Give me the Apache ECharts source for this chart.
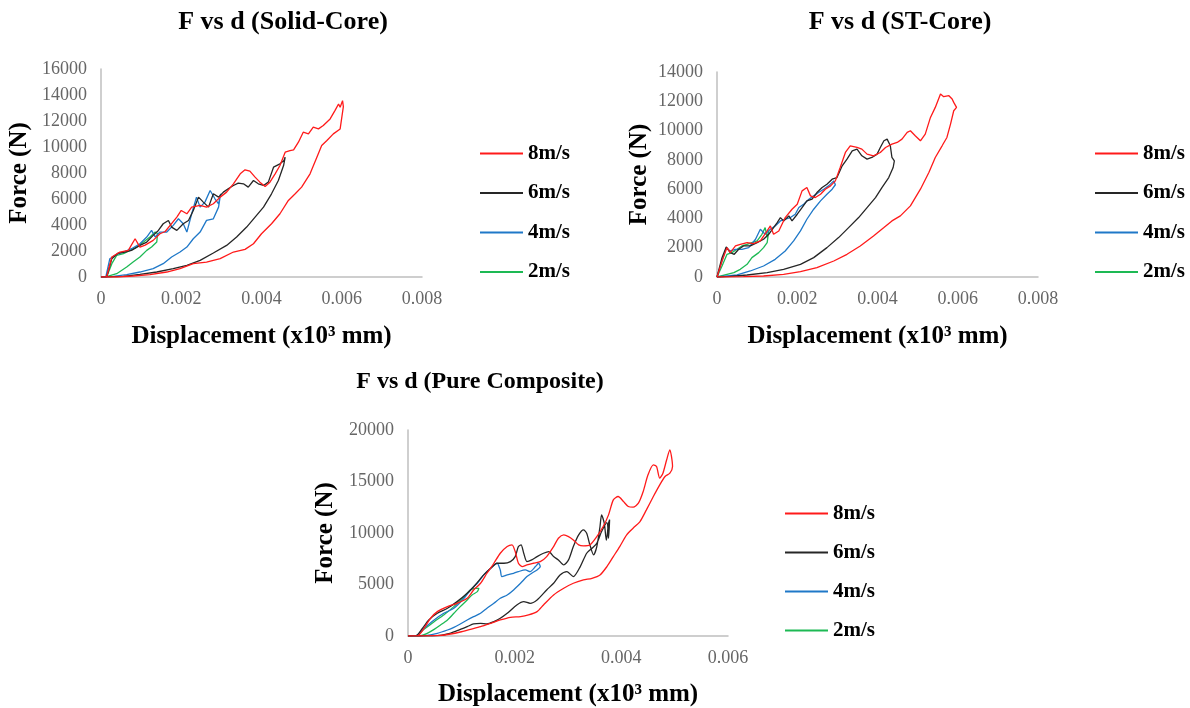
<!DOCTYPE html>
<html>
<head>
<meta charset="utf-8">
<script src="https://cdn.jsdelivr.net/npm/echarts@6/dist/echarts.min.js"></script>
<style>
html,body{margin:0;padding:0;background:#fff;}
#main{width:1190px;height:708px;}
</style>
</head>
<body>
<div id="main"></div>
<script>
// ---------- labels ----------
var speeds = ['8m/s', '6m/s', '4m/s', '2m/s'];
var titles = ['F vs d (Solid-Core)', 'F vs d (ST-Core)', 'F vs d (Pure Composite)'];
var xTitle = 'Displacement (x10\u00B3 mm)';
var yTitle = 'Force (N)';
var xMaxes = [0.008, 0.008, 0.006];
var yMaxes = [16000, 14000, 20000];
var yIntervals = [2000, 2000, 5000];

// ---------- Solid-Core [displacement, force] (loading path then return path) ----------
var solid8 = [[0,0],[0.00014,0],[0.00027,1536],[0.00047,1920],[0.00068,2048],[0.00085,2944],[0.00097,2300],[0.0011,2450],[0.0013,2816],[0.00147,3328],[0.0016,3500],[0.00189,4608],[0.002,5120],[0.00214,4864],[0.00226,5376],[0.00247,5504],[0.00263,5376],[0.0028,5632],[0.00297,6144],[0.00313,6528],[0.0033,7168],[0.00347,7936],[0.00359,8243],[0.00371,8141],[0.00384,7680],[0.00396,7296],[0.00409,6963],[0.00421,7296],[0.00434,7936],[0.00446,8576],[0.00459,9600],[0.00471,9728],[0.0048,9779],[0.00492,10368],[0.00504,11136],[0.00517,11008],[0.00529,11520],[0.00542,11392],[0.00554,11648],[0.00571,12160],[0.00583,12800],[0.00592,13312],[0.00596,13056],[0.00602,13568],[0.00606,13619],[0.00604,13100],[0.00596,11392],[0.00579,11008],[0.00563,10496],[0.0055,10112],[0.00538,9216],[0.00521,7936],[0.005,6912],[0.00484,6400],[0.00467,5888],[0.00446,4864],[0.00425,4096],[0.004,3328],[0.0038,2560],[0.00359,2125],[0.0033,1920],[0.00297,1408],[0.00263,1152],[0.0023,1024],[0.00197,640],[0.00164,384],[0.00122,180],[0.0008,77],[0.0004,0],[0,0]];
var solid6 = [[0,0],[0.00014,0],[0.00027,1408],[0.00043,1843],[0.0006,1920],[0.00076,2048],[0.00097,2432],[0.00114,2688],[0.0013,3200],[0.00143,3584],[0.00155,4096],[0.00168,4352],[0.00176,3840],[0.00189,3584],[0.00205,4096],[0.00218,4352],[0.0023,5120],[0.00243,6144],[0.00255,5760],[0.00268,5376],[0.0028,6400],[0.00293,6144],[0.00305,6528],[0.00317,6784],[0.0033,7040],[0.00342,7219],[0.00355,7168],[0.00367,6912],[0.0038,7424],[0.00392,7168],[0.00405,7040],[0.00417,7296],[0.0043,8448],[0.00446,8704],[0.00456,8960],[0.00459,9216],[0.00455,8576],[0.00442,7424],[0.00425,6400],[0.00405,5376],[0.00384,4608],[0.00363,3840],[0.00338,3072],[0.00313,2432],[0.0028,1843],[0.00247,1280],[0.00214,896],[0.0018,640],[0.00139,384],[0.00097,205],[0.00056,51],[0,0]];
var solid4 = [[0,0],[0.00012,0],[0.00022,1408],[0.00039,1741],[0.00056,1920],[0.00076,2176],[0.00097,2560],[0.00114,3072],[0.00126,3584],[0.00135,3072],[0.00147,3456],[0.00164,3456],[0.0018,3968],[0.00193,4480],[0.00205,4096],[0.00214,3456],[0.00226,4864],[0.00238,6144],[0.00247,5376],[0.00259,5760],[0.00272,6656],[0.00284,6016],[0.00293,5632],[0.00298,6400],[0.00293,5376],[0.0028,4480],[0.00263,4352],[0.00247,3456],[0.0023,2944],[0.00214,2304],[0.00197,1920],[0.00176,1536],[0.00155,1024],[0.0013,640],[0.00097,384],[0.00064,180],[0.00031,51],[0,0]];
var solid2 = [[0,0],[0.00014,0],[0.00027,1024],[0.00039,1664],[0.00056,1792],[0.00072,2048],[0.00089,2304],[0.00106,2688],[0.00122,3072],[0.00135,3456],[0.00141,3350],[0.00139,2688],[0.00126,2304],[0.00114,2048],[0.00097,1536],[0.0008,1152],[0.00064,768],[0.00039,256],[0.00014,26],[0,0]];

// ---------- ST-Core ----------
var st8 = [[0,0],[0.000125,1094],[0.00025,2006],[0.00033,1664],[0.00046,2120],[0.00058,2234],[0.00075,2348],[0.00091,2280],[0.00108,2462],[0.00125,3146],[0.00133,3488],[0.00141,2918],[0.00154,3146],[0.0017,4058],[0.00187,4628],[0.002,4970],[0.00212,5882],[0.00224,6110],[0.00233,5540],[0.00245,5426],[0.00258,5654],[0.0027,5996],[0.00283,6224],[0.00295,6566],[0.00307,7478],[0.0032,8504],[0.00332,8960],[0.00349,8846],[0.00361,8732],[0.00374,8390],[0.0039,8276],[0.00407,8504],[0.0042,8846],[0.00436,9074],[0.00449,9188],[0.00461,9416],[0.00474,9872],[0.00482,9986],[0.00494,9644],[0.00507,9302],[0.00519,9758],[0.00532,10898],[0.00544,11582],[0.00557,12494],[0.00565,12312],[0.00578,12380],[0.00586,12152],[0.0059,11924],[0.00597,11582],[0.0059,11354],[0.00582,10442],[0.00573,9530],[0.00561,8960],[0.00544,8162],[0.00528,7136],[0.00507,5996],[0.00482,4856],[0.00457,4172],[0.00436,3830],[0.00416,3374],[0.0039,2804],[0.00357,2120],[0.00324,1550],[0.00291,1094],[0.00249,638],[0.00208,365],[0.00166,182],[0.00116,68],[0.00066,23],[0,0]];
var st6 = [[0,0],[0.000125,1322],[0.00023,2052],[0.00033,1664],[0.00043,1550],[0.00054,1892],[0.00066,2120],[0.00083,2120],[0.001,2348],[0.00116,2576],[0.00129,2918],[0.00141,3374],[0.0015,3716],[0.00158,4058],[0.00166,3830],[0.00179,4172],[0.00187,3830],[0.002,4286],[0.00212,4742],[0.00224,5198],[0.00237,5312],[0.00249,5768],[0.00262,6110],[0.00274,6338],[0.00287,6680],[0.00299,6794],[0.00312,7592],[0.00324,8048],[0.00337,8618],[0.00349,8732],[0.00361,8276],[0.00374,8048],[0.00386,8162],[0.00399,8390],[0.00407,8846],[0.00416,9302],[0.00424,9416],[0.00432,8960],[0.00436,8162],[0.00442,7934],[0.00439,7478],[0.00428,6794],[0.00411,6110],[0.00395,5426],[0.00374,4742],[0.00353,4058],[0.00328,3374],[0.00303,2690],[0.00274,2006],[0.00241,1322],[0.00208,866],[0.00166,524],[0.00125,296],[0.00075,137],[0.00033,46],[0,0]];
var st4 = [[0,0],[0.000125,1094],[0.00023,2006],[0.00033,1778],[0.00046,1892],[0.00062,1892],[0.00079,2006],[0.00096,2576],[0.00108,3260],[0.0012,2918],[0.00133,3260],[0.00145,3488],[0.00158,3830],[0.0017,3944],[0.00183,4058],[0.00195,4286],[0.00204,4742],[0.00216,4970],[0.00229,5312],[0.00241,5540],[0.00253,5768],[0.00266,5996],[0.00278,6224],[0.00291,6566],[0.00295,6300],[0.00287,5996],[0.00274,5654],[0.00258,5198],[0.00241,4628],[0.00224,3944],[0.00208,3146],[0.00191,2462],[0.0017,1778],[0.00145,1208],[0.00116,752],[0.00083,410],[0.0005,137],[0,0]];
var st2 = [[0,0],[0.000125,752],[0.00025,1550],[0.00037,1664],[0.0005,1892],[0.00062,2120],[0.00075,2234],[0.00087,2348],[0.001,2462],[0.00112,2918],[0.0012,3374],[0.00125,2700],[0.00129,3146],[0.00125,2348],[0.00116,2006],[0.00104,1664],[0.00087,1322],[0.00075,866],[0.00058,524],[0.00042,296],[0.00025,182],[0,0]];

// ---------- Pure Composite ----------
var pure8 = [[0,0],[0.00017,0],[0.0003,745],[0.00042,1717],[0.00055,2365],[0.00074,2851],[0.00092,3175],[0.00111,3661],[0.00123,4471],[0.00136,5119],[0.00148,6091],[0.00161,7063],[0.00173,8035],[0.00186,8683],[0.00195,8845],[0.00201,8197],[0.00207,7063],[0.00214,6739],[0.00223,6901],[0.00235,7063],[0.00248,7225],[0.0026,7711],[0.00273,8683],[0.00282,9493],[0.00292,9817],[0.00301,9655],[0.0031,9331],[0.0032,8845],[0.00329,8748],[0.00341,8845],[0.00354,9655],[0.00366,10627],[0.00376,11761],[0.00385,13219],[0.00394,13543],[0.00404,13057],[0.00413,12571],[0.00422,12506],[0.00432,12895],[0.00441,14029],[0.0045,15649],[0.0046,16621],[0.00466,16459],[0.00472,15325],[0.00478,15811],[0.00485,17107],[0.00491,18079],[0.00494,17431],[0.00496,16459],[0.00491,15811],[0.00482,15487],[0.00472,14677],[0.0046,13543],[0.00447,12247],[0.00435,11113],[0.00422,10465],[0.0041,9817],[0.00397,8683],[0.00385,7711],[0.00373,6739],[0.0036,5929],[0.00345,5605],[0.00329,5443],[0.0031,5119],[0.00292,4633],[0.00273,3985],[0.00254,3013],[0.00242,2365],[0.00226,2041],[0.00211,1879],[0.00192,1814],[0.00173,1555],[0.00155,1231],[0.00136,907],[0.00117,648],[0.00098,389],[0.0008,194],[0.00061,65],[0,0]];
var pure6 = [[0,0],[0.00014,0],[0.00027,745],[0.00039,1555],[0.00055,2203],[0.00074,2689],[0.00092,3337],[0.00111,4147],[0.00126,4957],[0.00142,5929],[0.00155,6577],[0.00167,7063],[0.0018,7063],[0.00192,7225],[0.00201,7711],[0.00207,8683],[0.00212,8845],[0.00217,8035],[0.00223,7225],[0.00232,7387],[0.00242,7711],[0.00254,8035],[0.00264,8197],[0.00273,7711],[0.00282,7387],[0.00292,6901],[0.00301,7387],[0.0031,8683],[0.0032,9817],[0.00329,10303],[0.00335,9979],[0.00341,8845],[0.00348,7873],[0.00354,8683],[0.0036,10627],[0.00363,11761],[0.00368,10951],[0.00372,9300],[0.00376,10951],[0.00378,11300],[0.00376,9493],[0.00373,11000],[0.00363,10141],[0.00354,9007],[0.00345,8521],[0.00335,8035],[0.00323,6739],[0.0031,5767],[0.00298,6253],[0.00285,5929],[0.00273,5119],[0.0026,4471],[0.00242,3499],[0.00229,3175],[0.00217,3337],[0.00204,3013],[0.00186,2203],[0.00173,1717],[0.00161,1393],[0.00148,1166],[0.00136,1231],[0.00123,1166],[0.00111,907],[0.00092,518],[0.00074,194],[0.00055,32],[0,0]];
var pure4 = [[0,0],[0.00014,0],[0.0003,745],[0.00049,1555],[0.00067,2203],[0.00086,2689],[0.00105,3661],[0.00117,4471],[0.0013,5119],[0.00142,5929],[0.00155,6577],[0.00167,7063],[0.00173,6415],[0.00176,5767],[0.00186,5929],[0.00198,6091],[0.00207,6253],[0.0022,6415],[0.00229,6253],[0.00239,6739],[0.00245,7063],[0.00248,6739],[0.00242,6415],[0.00232,6091],[0.00223,5767],[0.00211,5119],[0.00198,4471],[0.00186,3985],[0.00173,3661],[0.00161,3175],[0.00148,2689],[0.00136,2203],[0.00123,1879],[0.00111,1555],[0.00098,1166],[0.00086,842],[0.00074,583],[0.00055,259],[0.00036,65],[0,0]];
var pure2 = [[0,0],[0.00014,0],[0.0003,648],[0.00049,1393],[0.00067,2041],[0.00086,2851],[0.00105,3823],[0.00117,4471],[0.00126,4633],[0.00133,4633],[0.0013,4309],[0.0012,3985],[0.00111,3499],[0.00098,2851],[0.00086,2203],[0.00074,1555],[0.00061,1069],[0.00049,648],[0.00036,259],[0.00024,32],[0,0]];

var seriesData = [
  [solid8, solid6, solid4, solid2],
  [st8, st6, st4, st2],
  [pure8, pure6, pure4, pure2]
];
var colors = ['#FF1A1A', '#262626', '#1F78C8', '#1DB954'];

// ---------- layout ----------
var grids = [
  {left: 101, top: 69, width: 321, height: 208, outerBoundsMode: 'none'},
  {left: 717, top: 72, width: 321, height: 205, outerBoundsMode: 'none'},
  {left: 408, top: 430, width: 320, height: 206, outerBoundsMode: 'none'}
];
var titlePos = [[283, 22], [900, 22], [480, 382]];
var titleSizes = [26, 26, 24];
var legendPos = [[480, 143], [1095, 143], [785, 503]];
var legendGaps = [18.5, 18.5, 18];
var yNameGap = [69, 65, 70];
var xNameGap = [47, 47, 46];

var serif = '"Liberation Serif", "Times New Roman", serif';

var xAxes = [], yAxes = [], series = [], legends = [], graphics = [];
for (var i = 0; i < 3; i++) {
  xAxes.push({
    type: 'value', gridIndex: i, min: 0, max: xMaxes[i], interval: 0.002,
    name: xTitle, nameLocation: 'middle', nameGap: xNameGap[i],
    nameTextStyle: {fontFamily: serif, fontWeight: 'bold', fontSize: 25, color: '#000'},
    axisLine: {show: true, lineStyle: {color: '#BFBFBF', width: 1.5}},
    axisTick: {show: false}, splitLine: {show: false},
    axisLabel: {
      fontFamily: serif, fontSize: 18, color: '#666', margin: 13,
      formatter: function (v) { return v === 0 ? '0' : v.toFixed(3); }
    }
  });
  yAxes.push({
    type: 'value', gridIndex: i, min: 0, max: yMaxes[i], interval: yIntervals[i],
    name: yTitle, nameLocation: 'middle', nameGap: yNameGap[i], nameRotate: 90,
    nameTextStyle: {fontFamily: serif, fontWeight: 'bold', fontSize: 25, color: '#000'},
    axisLine: {show: true, lineStyle: {color: '#BFBFBF', width: 1.5}},
    axisTick: {show: false}, splitLine: {show: false},
    axisLabel: {
      fontFamily: serif, fontSize: 18, color: '#666', margin: 14,
      formatter: function (v) { return String(v); }
    }
  });
  for (var k = 0; k < 4; k++) {
    series.push({
      type: 'line', name: speeds[k], xAxisIndex: i, yAxisIndex: i,
      data: seriesData[i][k], showSymbol: false, symbol: 'none',
      smooth: i === 2 ? 0.25 : false,
      lineStyle: {color: colors[k], width: 1.3},
      itemStyle: {color: colors[k]},
      z: 10 - k
    });
  }
  legends.push({
    data: speeds, orient: 'vertical', left: legendPos[i][0], top: legendPos[i][1],
    padding: 0, itemGap: legendGaps[i], itemWidth: 43, itemHeight: 2, icon: 'rect',
    selectedMode: false,
    textStyle: {fontFamily: serif, fontWeight: 'bold', fontSize: 21, lineHeight: 21, color: '#000'}
  });
  graphics.push({
    type: 'text', x: titlePos[i][0], y: titlePos[i][1],
    style: {text: titles[i], fill: '#000', font: 'bold ' + titleSizes[i] + 'px ' + serif,
            textAlign: 'center', textVerticalAlign: 'middle'}
  });
}

var chart = echarts.init(document.getElementById('main'), null, {renderer: 'canvas'});
chart.setOption({
  animation: false,
  backgroundColor: '#fff',
  grid: grids,
  xAxis: xAxes,
  yAxis: yAxes,
  legend: legends,
  series: series,
  graphic: graphics
});
</script>
</body>
</html>
